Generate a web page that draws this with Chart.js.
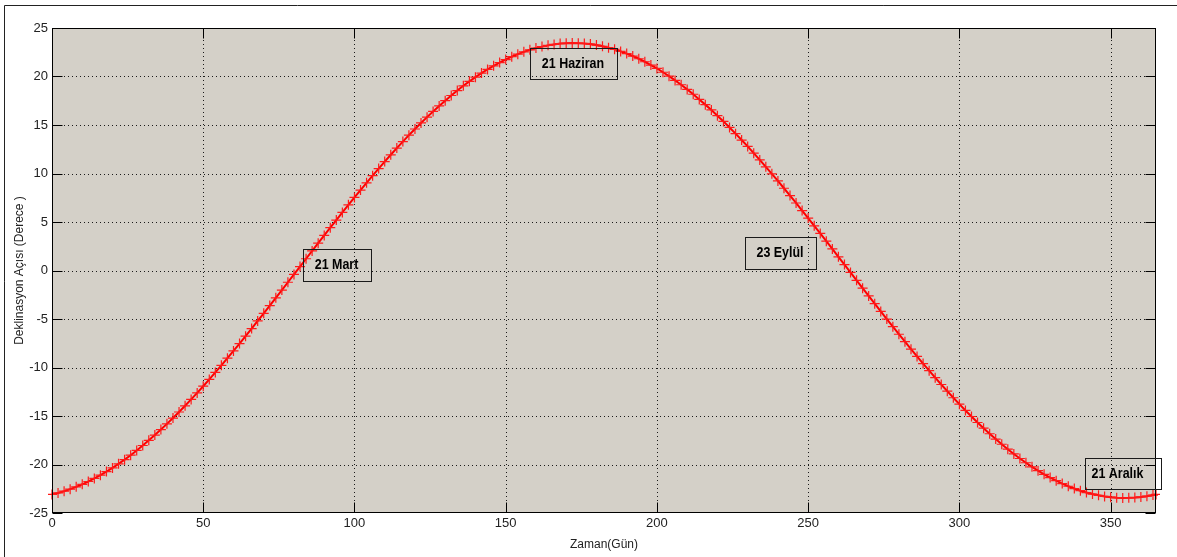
<!DOCTYPE html>
<html><head><meta charset="utf-8">
<script src="https://cdn.jsdelivr.net/npm/chart.js@4"></script>
<style>html,body{margin:0;padding:0;background:#fff;overflow:hidden}canvas{display:block}</style>
</head><body>
<canvas id="c" width="1177" height="557"></canvas>
<script>
const days = [0,2,4,6,8,10,12,14,16,18,20,22,24,26,28,30,32,34,36,38,40,42,44,46,48,50,52,54,56,58,60,62,64,66,68,70,72,74,76,78,80,82,84,86,88,90,92,94,96,98,100,102,104,106,108,110,112,114,116,118,120,122,124,126,128,130,132,134,136,138,140,142,144,146,148,150,152,154,156,158,160,162,164,166,168,170,172,174,176,178,180,182,184,186,188,190,192,194,196,198,200,202,204,206,208,210,212,214,216,218,220,222,224,226,228,230,232,234,236,238,240,242,244,246,248,250,252,254,256,258,260,262,264,266,268,270,272,274,276,278,280,282,284,286,288,290,292,294,296,298,300,302,304,306,308,310,312,314,316,318,320,322,324,326,328,330,332,334,336,338,340,342,344,346,348,350,352,354,356,358,360,362,364,365];
const declination = [-23.08,-22.93,-22.75,-22.54,-22.30,-22.04,-21.75,-21.44,-21.10,-20.73,-20.35,-19.93,-19.50,-19.04,-18.55,-18.04,-17.51,-16.97,-16.40,-15.81,-15.21,-14.59,-13.95,-13.29,-12.62,-11.93,-11.23,-10.51,-9.78,-9.04,-8.29,-7.53,-6.77,-5.99,-5.20,-4.41,-3.62,-2.82,-2.02,-1.21,-0.40,0.40,1.21,2.02,2.82,3.62,4.41,5.20,5.99,6.77,7.53,8.29,9.04,9.78,10.51,11.23,11.93,12.62,13.29,13.95,14.59,15.21,15.81,16.40,16.97,17.51,18.04,18.55,19.04,19.50,19.93,20.35,20.73,21.10,21.44,21.75,22.04,22.30,22.54,22.75,22.93,23.08,23.21,23.31,23.39,23.43,23.45,23.44,23.40,23.34,23.24,23.12,22.97,22.80,22.59,22.36,22.11,21.83,21.52,21.18,20.83,20.44,20.03,19.60,19.15,18.67,18.17,17.64,17.10,16.55,15.96,15.37,14.75,14.11,13.45,12.79,12.10,11.40,10.69,9.97,9.23,8.48,7.72,6.96,6.18,5.40,4.61,3.82,3.02,2.22,1.41,0.61,-0.20,-1.01,-1.82,-2.62,-3.42,-4.22,-5.01,-5.79,-6.57,-7.34,-8.11,-8.86,-9.60,-10.33,-11.05,-11.75,-12.44,-13.12,-13.78,-14.43,-15.05,-15.67,-16.26,-16.83,-17.38,-17.91,-18.42,-18.91,-19.38,-19.82,-20.24,-20.64,-21.01,-21.35,-21.67,-21.97,-22.24,-22.48,-22.70,-22.89,-23.05,-23.18,-23.29,-23.37,-23.42,-23.45,-23.44,-23.41,-23.35,-23.27,-23.15,-23.09];
const xTickValues = [0,50,100,150,200,250,300,350];
const yTickValues = [-25,-20,-15,-10,-5,0,5,10,15,20,25];
const xTitle = 'Zaman(Gün)';
const yTitle = 'Deklinasyon Açısı (Derece )';
const noteTexts = ['21 Haziran','21 Mart','23 Eylül','21 Aralık'];
// box corners in data units [x1, y1, x2, y2]
const noteBoxes = [[158.1,22.94,186.8,19.77],[83.1,2.19,105.4,-1.05],[229.0,3.49,252.6,0.16],[341.4,-19.38,366.6,-22.54]];
const noteAlign = ['center','center','center','left'];

const sans = "'Liberation Sans',Arial,sans-serif";
const tickFont = {family: sans, size: 13};
const titleFont = {family: sans, size: 12};

const matlabAxes = {
  id: 'matlabAxes',
  beforeDraw(chart) {
    const {ctx, chartArea: a} = chart;
    ctx.save();
    ctx.fillStyle = '#ffffff';
    ctx.fillRect(0, 0, chart.width, chart.height);
    ctx.fillStyle = '#d4d0c8';
    ctx.fillRect(a.left, a.top, a.right - a.left, a.bottom - a.top);
    ctx.restore();
  },
  beforeDatasetsDraw(chart) {
    const {ctx, chartArea: a, scales: {x, y}} = chart;
    ctx.save();
    ctx.strokeStyle = '#1a1a1a';
    ctx.lineWidth = 1;
    ctx.setLineDash([1, 3]);
    xTickValues.forEach(v => {
      const px = Math.round(x.getPixelForValue(v)) + 0.5;
      if (px <= a.left + 1 || px >= a.right - 1) return;
      ctx.beginPath(); ctx.moveTo(px, a.top); ctx.lineTo(px, a.bottom); ctx.stroke();
    });
    yTickValues.forEach(v => {
      const py = Math.round(y.getPixelForValue(v)) + 0.5;
      if (py <= a.top + 1 || py >= a.bottom - 1) return;
      ctx.beginPath(); ctx.moveTo(a.left, py); ctx.lineTo(a.right, py); ctx.stroke();
    });
    ctx.restore();
  },
  afterDatasetsDraw(chart) {
    const {ctx, chartArea: a, scales: {x, y}} = chart;
    ctx.save();
    ctx.setLineDash([]);
    ctx.strokeStyle = '#000';
    ctx.lineWidth = 1;
    const L = Math.round(a.left) + 0.5, R = Math.round(a.right) - 0.5;
    const T = Math.round(a.top) + 0.5, B = Math.round(a.bottom) - 0.5;
    ctx.strokeRect(L, T, R - L, B - T);
    const tl = 10;
    ctx.beginPath();
    xTickValues.forEach(v => {
      const px = Math.round(x.getPixelForValue(v)) + 0.5;
      ctx.moveTo(px, B); ctx.lineTo(px, B - tl);
      ctx.moveTo(px, T); ctx.lineTo(px, T + tl);
    });
    yTickValues.forEach(v => {
      const py = Math.round(y.getPixelForValue(v)) + 0.5;
      ctx.moveTo(L, py); ctx.lineTo(L + tl, py);
      ctx.moveTo(R, py); ctx.lineTo(R - tl, py);
    });
    ctx.stroke();

    // text annotations (condensed bold, like Arial Narrow)
    const squeeze = 0.83;
    ctx.font = "bold 15px " + sans;
    ctx.fillStyle = '#000';
    ctx.strokeStyle = '#1a1a1a';
    noteTexts.forEach((t, i) => {
      const [dx1, dy1, dx2, dy2] = noteBoxes[i];
      const x1 = Math.round(x.getPixelForValue(dx1)) + 0.5;
      const x2 = Math.round(x.getPixelForValue(dx2)) + 0.5;
      const y1 = Math.round(y.getPixelForValue(dy1)) + 0.5;
      const y2 = Math.round(y.getPixelForValue(dy2)) + 0.5;
      ctx.strokeRect(x1, y1, x2 - x1, y2 - y1);
      const cy = (y1 + y2) / 2 + 3.5;
      const tx = noteAlign[i] === 'left' ? x1 + 6 : (x1 + x2) / 2 - 1;
      ctx.save();
      ctx.translate(tx, cy);
      ctx.scale(squeeze, 1);
      ctx.textBaseline = 'alphabetic';
      ctx.textAlign = noteAlign[i] === 'left' ? 'left' : 'center';
      ctx.fillText(t, 0, 0);
      ctx.restore();
    });

    // outer frame (left and top edges)
    ctx.strokeStyle = '#222';
    ctx.beginPath();
    ctx.moveTo(4.5, chart.height); ctx.lineTo(4.5, 5.5); ctx.lineTo(chart.width, 5.5);
    ctx.stroke();
    ctx.restore();
  }
};

new Chart(document.getElementById('c'), {
  type: 'line',
  data: {
    datasets: [{
      data: days.map((d, i) => ({x: d, y: declination[i]})),
      borderColor: '#ff0000',
      borderWidth: 2,
      pointStyle: 'cross',
      pointRadius: 5,
      pointHoverRadius: 5,
      pointBorderWidth: 1.2,
      pointBorderColor: '#ff1a1a',
      pointBackgroundColor: '#ff1a1a',
      tension: 0,
      clip: 4
    }]
  },
  options: {
    responsive: false,
    animation: false,
    devicePixelRatio: 1,
    events: [],
    layout: {padding: {left: 0, right: 21, top: 28, bottom: 0}},
    plugins: {legend: {display: false}, tooltip: {enabled: false}},
    scales: {
      x: {
        type: 'linear', min: 0, max: 365,
        afterBuildTicks: s => { s.ticks = xTickValues.map(v => ({value: v})); },
        afterFit: s => { s.height = 44; },
        grid: {display: false, drawTicks: false},
        border: {display: false},
        ticks: {font: tickFont, color: '#222', padding: 3, maxRotation: 0, autoSkip: false},
        title: {display: true, text: xTitle, font: titleFont, color: '#222', padding: {top: 0, bottom: 5}}
      },
      y: {
        type: 'linear', min: -25, max: 25,
        afterBuildTicks: s => { s.ticks = yTickValues.map(v => ({value: v})); },
        afterFit: s => { s.width = 52; },
        grid: {display: false, drawTicks: false},
        border: {display: false},
        ticks: {font: tickFont, color: '#222', padding: 4, autoSkip: false},
        title: {display: true, text: yTitle, font: titleFont, color: '#222', padding: {top: 12, bottom: 0}}
      }
    }
  },
  plugins: [matlabAxes]
});
</script>
</body></html>
